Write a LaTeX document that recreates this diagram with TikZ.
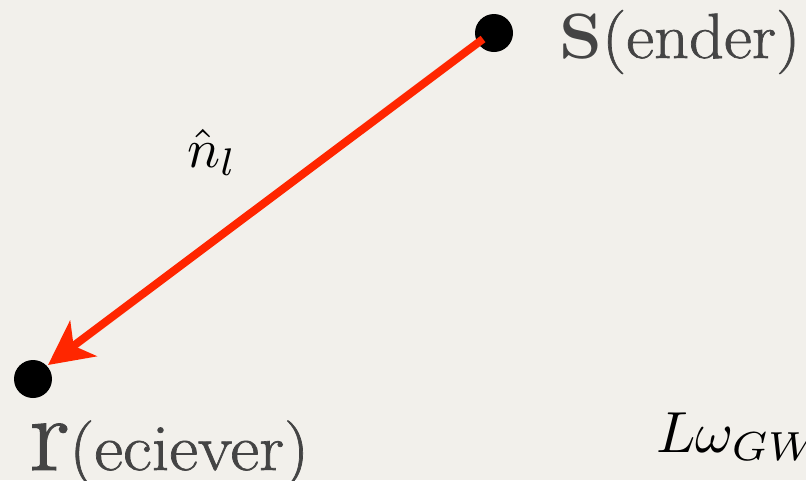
\documentclass[tikz,border=0pt]{standalone}
\usepackage{fontspec}
\setmainfont{Latin Modern Roman}
\usetikzlibrary{arrows.meta}
\definecolor{bgc}{RGB}{242,240,235}
\definecolor{arrowred}{RGB}{255,38,0}
\definecolor{txtgray}{RGB}{68,68,68}
\newfontfamily\thickrm{Latin Modern Roman}[FakeBold=1.0]
\tikzset{
  dot/.style={circle, fill=black, inner sep=0pt, minimum size=38pt},
  lbl/.style={inner sep=0pt, anchor=base west, text=txtgray, font=\thickrm},
  mathlbl/.style={inner sep=0pt, anchor=base west, text=black},
  redarrow/.style={draw=arrowred, line width=8pt, -{Stealth[length=44pt, width=44pt, inset=12pt]}}
}
\begin{document}
\begin{tikzpicture}[x=1pt, y=-1pt]
  \fill[bgc] (0,0) rectangle (806,480);
  \useasboundingbox (0,0) rectangle (806,480);
  \node[dot] (S) at (494,33) {};
  \node[dot] (R) at (33,379) {};
  \coordinate (Sstart) at (483,39);
  \coordinate (Rtip) at (48,365);
  \draw[redarrow] (Sstart) -- (Rtip);
  \node[lbl, xscale=1.07] (Slbl) at (559,58) {\fontsize{64}{64}\selectfont{\normalfont\bfseries S}(ender)};
  \node[lbl, xscale=1.07] (Rlbl) at (29,470) {\fontsize{106}{106}\selectfont r\fontsize{66}{66}\selectfont(eciever)};
  \node[mathlbl, scale=5.5] (n) at (186,167) {$\hat{n}_l$};
  \node[mathlbl, scale=5.8] (L) at (655,452) {$L\omega_{GW}$};
\end{tikzpicture}
\end{document}
